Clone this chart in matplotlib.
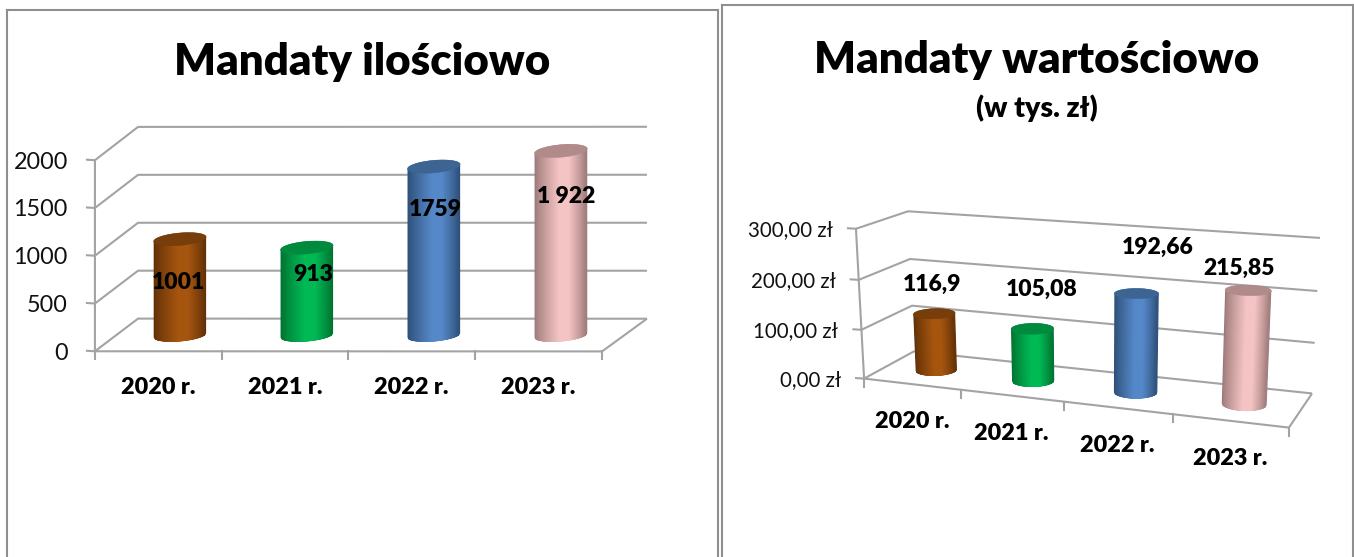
import numpy as np
import matplotlib
matplotlib.use("Agg")
import matplotlib.pyplot as plt
from matplotlib.collections import PolyCollection
from matplotlib.colors import to_rgb

# ---------- data ----------
categories = ["2020 r.", "2021 r.", "2022 r.", "2023 r."]
count_values = [1001, 913, 1759, 1922]
count_labels = ["1001", "913", "1759", "1 922"]
count_ticks = [0, 500, 1000, 1500, 2000]
count_ticklabels = ["0", "500", "1000", "1500", "2000"]
amount_values = [116.9, 105.08, 192.66, 215.85]
amount_labels = ["116,9", "105,08", "192,66", "215,85"]
amount_ticks = [0, 100, 200, 300]
amount_ticklabels = ["0,00 zł", "100,00 zł", "200,00 zł", "300,00 zł"]

# ---------- styles / layout ----------
W, H = 1354, 557
FONT = "Lato"
HEAVY = "heavy"
GRID = "#a3a3a3"
FRAME = "#8f8f8f"
PALETTE = [  # edge, light, top
    ("#5f2f07", "#a5550e", "#773d0a"),
    ("#00702f", "#00b955", "#008a3e"),
    ("#2c4d74", "#5588c8", "#3d6593"),
    ("#9a7777", "#f4c3c3", "#b08b8a"),
]
# box corners in pixels: (u, d, h) -> (x, y)
BOX_LEFT = [((0, 0, 0), (95, 351)), ((0, 0, 1), (95, 160)), ((0, 1, 0), (138, 319)),
            ((0, 1, 1), (138, 127)), ((4, 1, 0), (647, 318)), ((4, 1, 1), (647, 127)),
            ((4, 0, 0), (602, 352)), ((4, 0, 1), (602, 160))]
BOX_RIGHT = [((0, 0, 0), (864, 378)), ((0, 0, 1), (856, 229)), ((0, 1, 0), (914, 352)),
             ((0, 1, 1), (908, 211)), ((4, 1, 0), (1312, 393)), ((4, 1, 1), (1320, 238)),
             ((4, 0, 0), (1289, 428))]
LABELS_LEFT = [(178.5, 282), (313, 274), (435, 209), (566, 196)]
LABELS_RIGHT = [(932, 284), (1042, 289), (1158, 247), (1239, 268)]


def fit_projection(corners):
    A, b = [], []
    for (u, d, h), (x, y) in corners:
        A.append([u, d, h, 1, 0, 0, 0, 0, -u * x, -d * x, -h * x]); b.append(x)
        A.append([0, 0, 0, 0, u, d, h, 1, -u * y, -d * y, -h * y]); b.append(y)
    m = np.linalg.lstsq(np.array(A, float), np.array(b, float), rcond=None)[0]
    return np.append(m, 1.0).reshape(3, 4)


def make_proj(corners):
    M = fit_projection(corners)

    def proj(u, d, h):
        u, d, h = np.broadcast_arrays(np.asarray(u, float), np.asarray(d, float), np.asarray(h, float))
        X = np.stack([u, d, h, np.ones_like(u)])
        p = M @ X.reshape(4, -1)
        return np.stack([p[0] / p[2], p[1] / p[2]], axis=-1).reshape(u.shape + (2,))
    return proj


def poly(ax, pts, z=2):
    pts = np.asarray(pts)
    ax.plot(pts[:, 0], pts[:, 1], color=GRID, lw=1.5, zorder=z, solid_capstyle="butt",
            solid_joinstyle="miter", clip_on=False)


def cylinder(ax, proj, cat, value, vmax, colours, ru=0.195, rd=0.2):
    edge, light, top = [np.array(to_rgb(c)) for c in colours]
    t = np.linspace(0, 2 * np.pi, 360, endpoint=False)
    u, d = cat + 0.5 + ru * np.cos(t), 0.5 + rd * np.sin(t)
    low = proj(u, d, 0.0)
    high = proj(u, d, value / vmax)
    # visible arc runs from the leftmost to the rightmost point through the viewer's side
    start, stop = int(np.argmin(low[:, 0])), int(np.argmax(low[:, 0]))
    n = len(t)
    front = [(start + k) % n for k in range((stop - start) % n + 1)]
    back = [(stop + k) % n for k in range((start - stop) % n + 1)]
    outline = np.vstack([low[front], high[back]])
    ax.fill(outline[:, 0], outline[:, 1], color=edge, lw=0, zorder=3, clip_on=False)
    xmin, xmax = low[:, 0].min(), low[:, 0].max()
    quads, cols = [], []
    for a, b in zip(front[:-1], front[1:]):
        f = (low[a, 0] - xmin) / (xmax - xmin)
        if 0.025 < f < 0.975:
            w = f / 0.58 if f < 0.58 else (1 - f) / 0.42
            w = min(1.0, w * 1.25) ** 0.85
            quads.append([low[a], low[b], high[b], high[a]])
            cols.append(edge + (light - edge) * w)
    ax.add_collection(PolyCollection(quads, facecolors=cols, edgecolors=cols, linewidths=0.5,
                                     zorder=3.5, clip_on=False))
    ax.fill(high[:, 0], high[:, 1], color=top, lw=0.3, zorder=4, clip_on=False)


def chart(ax, corners, values, ticks, ticklabels, vmax, label_gap, tick_dy, cat_gap, fs_tick):
    proj = make_proj(corners)
    n = len(categories)
    for tv, tl in zip(ticks, ticklabels):
        h = tv / vmax
        poly(ax, [proj(0, 0, h), proj(0, 1, h), proj(n, 1, h)])
        x, y = proj(0, 0, h)
        ax.plot([x - 8, x], [y - 0.5, y], color=GRID, lw=1.5, zorder=2, clip_on=False)
        ax.text(x - label_gap, y + tick_dy, tl, ha="right", va="center",
                fontsize=fs_tick, family=FONT, color="#111111", clip_on=False)
    poly(ax, [proj(0, 0, 1), proj(0, 0, 0), proj(n, 0, 0), proj(n, 1, 0)])
    for i in range(n + 1):
        x, y = proj(i, 0, 0)
        ax.plot([x, x], [y, y + 8], color=GRID, lw=1.5, zorder=2, clip_on=False)
    for i, name in enumerate(categories):
        x, y = proj(i + 0.5, 0, 0)
        ax.text(x, y + cat_gap, name, ha="center", va="center", fontsize=FS_CAT,
                fontweight=HEAVY, family=FONT, color="black", zorder=6)
        cylinder(ax, proj, i, values[i], vmax, PALETTE[i])


def panel(x0, y0, x1):
    y1 = H + 20
    ax = fig.add_axes([x0 / W, 1 - y1 / H, (x1 - x0) / W, (y1 - y0) / H])
    ax.set_xlim(x0, x1)
    ax.set_ylim(y1, y0)
    ax.set_xticks([])
    ax.set_yticks([])
    for s in ax.spines.values():
        s.set_color(FRAME)
        s.set_linewidth(1.5)
    return ax


FS_CAT = 16.8
FS_VAL = 16.5
FS_TITLE = 31.6
fig = plt.figure(figsize=(W / 100, H / 100), dpi=100, facecolor="white")

ax1 = panel(6.5, 10, 718)
chart(ax1, BOX_LEFT, count_values, count_ticks, count_ticklabels, 2000, 27, 2.0, 36, 16.8)
ax1.text(362, 62, "Mandaty ilościowo", ha="center", va="center", fontsize=FS_TITLE, fontweight=HEAVY, family=FONT)
for (x, y), s in zip(LABELS_LEFT, count_labels):
    ax1.text(x, y, s, ha="center", va="center", fontsize=FS_VAL, fontweight=HEAVY, family=FONT, zorder=6)

ax2 = panel(722, 5, 1353)
chart(ax2, BOX_RIGHT, amount_values, amount_ticks, amount_ticklabels, 300, 23, 1.5, 37.5, 14.8)
ax2.text(1037, 60, "Mandaty wartościowo", ha="center", va="center", fontsize=FS_TITLE, fontweight=HEAVY, family=FONT)
ax2.text(1037, 108, "(w tys. zł)", ha="center", va="center", fontsize=20.5, fontweight=HEAVY, family=FONT)
for (x, y), s in zip(LABELS_RIGHT, amount_labels):
    ax2.text(x, y, s, ha="center", va="center", fontsize=FS_VAL, fontweight=HEAVY, family=FONT, zorder=6)

fig.savefig("out.png", dpi=100, facecolor="white")
